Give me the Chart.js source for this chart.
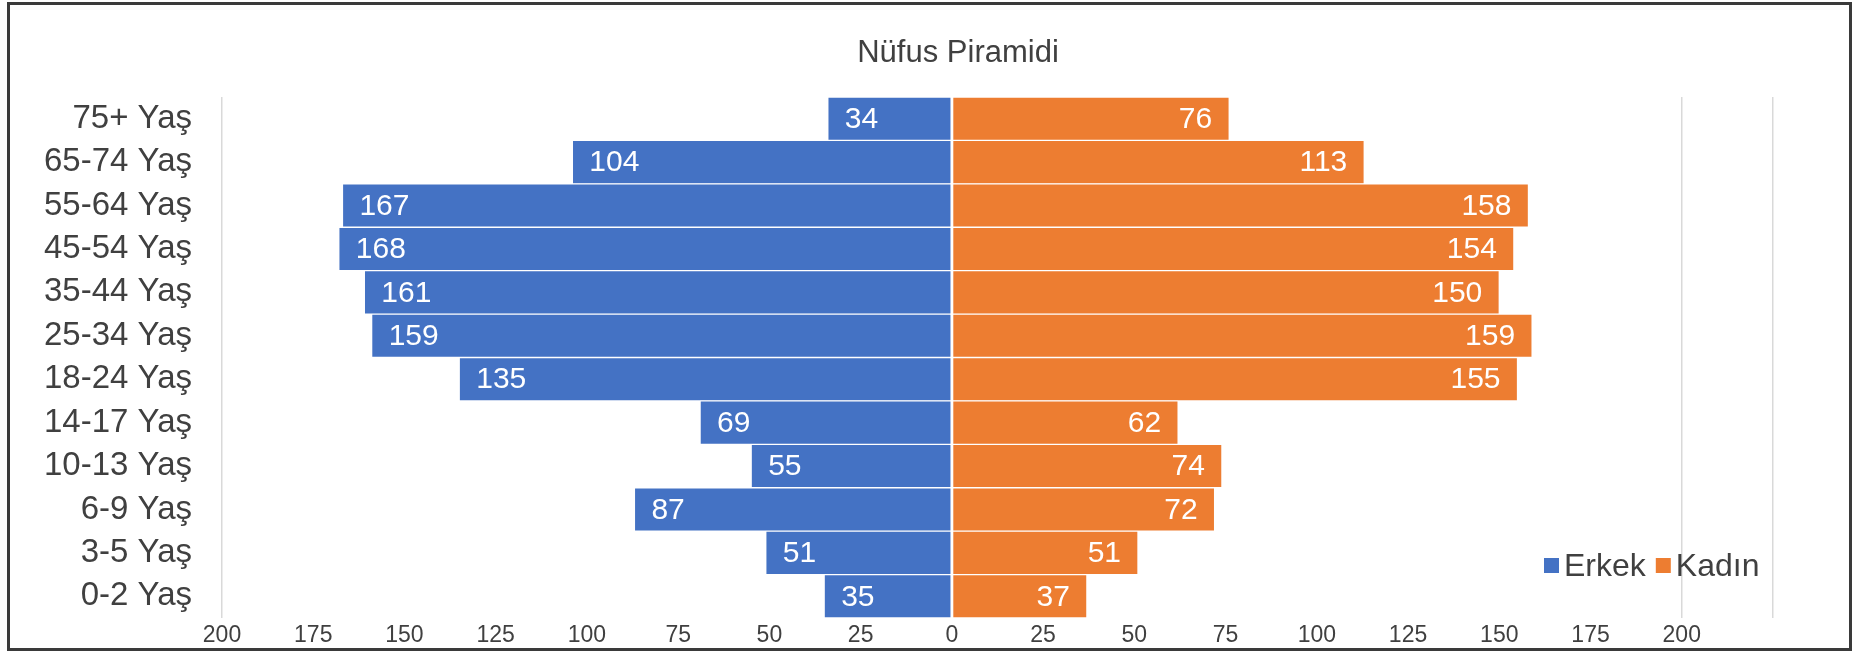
<!DOCTYPE html>
<html>
<head>
<meta charset="utf-8">
<script src="https://cdn.jsdelivr.net/npm/chart.js@4/dist/chart.umd.min.js"></script>
<style>
  html, body { margin: 0; padding: 0; background: #fff; }
  #wrap { width: 1856px; height: 652px; }
</style>
</head>
<body>
<div id="wrap"><canvas id="mychart" width="1856" height="652"></canvas></div>
<script>
// yas gruplari, yukaridan asagiya
var categories = ["75+ Yaş", "65-74 Yaş", "55-64 Yaş", "45-54 Yaş", "35-44 Yaş", "25-34 Yaş",
                  "18-24 Yaş", "14-17 Yaş", "10-13 Yaş", "6-9 Yaş", "3-5 Yaş", "0-2 Yaş"];
var erkek = [34, 104, 167, 168, 161, 159, 135, 69, 55, 87, 51, 35];
var kadin = [76, 113, 158, 154, 150, 159, 155, 62, 74, 72, 51, 37];
var seriesNames = ["Erkek", "Kadın"];
var chartTitle = "Nüfus Piramidi";
var axisMin = -200, axisMax = 225, axisStep = 25;
var visibleGrid = [-200, 200, 225];   // sadece bu cizgiler gorunuyor

var colors = ["#4472C4", "#ED7D31"];
var textColor = "#404040";
var fontName = "'Liberation Sans', Arial, sans-serif";

// erkek degerleri sola dogru cizilsin diye negatif
var erkekNeg = erkek.map(function (v) { return -v; });

// cerceve + baslik + legend + bar etiketleri
var extras = {
    id: "extras",
    beforeDraw: function (chart) {
        var ctx = chart.ctx;
        ctx.save();
        ctx.fillStyle = "#fff";
        ctx.fillRect(0, 0, chart.width, chart.height);
        ctx.restore();
    },
    afterDatasetsDraw: function (chart) {
        var ctx = chart.ctx;
        ctx.save();
        ctx.font = "30px " + fontName;
        ctx.fillStyle = "#fff";
        ctx.textBaseline = "middle";
        chart.data.datasets.forEach(function (ds, di) {
            var meta = chart.getDatasetMeta(di);
            meta.data.forEach(function (bar, i) {
                var val = di == 0 ? erkek[i] : kadin[i];
                if (di == 0) {
                    ctx.textAlign = "left";
                    ctx.fillText(String(val), bar.x + 17, bar.y + 1);
                } else {
                    ctx.textAlign = "right";
                    ctx.fillText(String(val), bar.x - 17, bar.y + 1);
                }
            });
        });
        ctx.restore();
    },
    afterDraw: function (chart) {
        var ctx = chart.ctx;
        ctx.save();

        // baslik
        ctx.fillStyle = textColor;
        ctx.font = "31px " + fontName;
        ctx.textAlign = "center";
        ctx.textBaseline = "middle";
        ctx.fillText(chartTitle, 958, 53);

        // legend (plot alaninin sag alti)
        ctx.font = "32px " + fontName;
        ctx.textAlign = "left";
        var ly = 566;
        var lx = 1544;
        for (var i = 0; i < seriesNames.length; i++) {
            ctx.fillStyle = colors[i];
            ctx.fillRect(lx, ly - 8, 15, 15);
            ctx.fillStyle = textColor;
            ctx.fillText(seriesNames[i], lx + 20, ly + 1);
            lx += 20 + ctx.measureText(seriesNames[i]).width + 10;
        }

        // cerceve
        ctx.strokeStyle = "#3a3a3a";
        ctx.lineWidth = 3;
        ctx.strokeRect(8.5, 3.5, 1842, 646);
        ctx.restore();
    }
};

var canvas = document.getElementById("mychart");
var mychart = new Chart(canvas, {
    type: "bar",
    data: {
        labels: categories,
        datasets: [
            { label: seriesNames[0], data: erkekNeg, backgroundColor: colors[0],
              borderColor: "#fff", borderWidth: 1, borderSkipped: false },
            { label: seriesNames[1], data: kadin, backgroundColor: colors[1],
              borderColor: "#fff", borderWidth: 1, borderSkipped: false }
        ]
    },
    options: {
        indexAxis: "y",
        responsive: false,
        animation: false,
        layout: { padding: { top: 97, right: 83, bottom: 0, left: 0 } },
        datasets: { bar: { barPercentage: 1, categoryPercentage: 1 } },
        plugins: {
            legend: { display: false },
            title: { display: false },
            tooltip: { enabled: false }
        },
        scales: {
            x: {
                stacked: true,
                min: axisMin,
                max: axisMax,
                border: { display: false },
                grid: {
                    drawTicks: false,
                    lineWidth: 1.5,
                    color: function (c) {
                        if (c.tick && visibleGrid.indexOf(c.tick.value) >= 0) return "#d9d9d9";
                        return "rgba(0,0,0,0)";
                    }
                },
                ticks: {
                    stepSize: axisStep,
                    autoSkip: false,
                    maxRotation: 0,
                    padding: 4,
                    color: textColor,
                    font: { family: fontName, size: 23 },
                    callback: function (v) { return v == axisMax ? "" : String(Math.abs(v)); }
                },
                afterFit: function (scale) {
                    scale.height = 34;
                    scale.paddingLeft = 0;
                    scale.paddingRight = 0;
                }
            },
            y: {
                stacked: true,
                border: { display: false },
                grid: { display: false, drawTicks: false },
                ticks: {
                    padding: 30,
                    color: textColor,
                    font: { family: fontName, size: 33 }
                },
                afterFit: function (scale) {
                    scale.width = 222;
                    // etiket tasmasi icin eklenen bosluk plot alanini kucultmesin
                    scale.paddingTop = 0;
                    scale.paddingBottom = 0;
                }
            }
        }
    },
    plugins: [extras]
});
</script>
</body>
</html>
